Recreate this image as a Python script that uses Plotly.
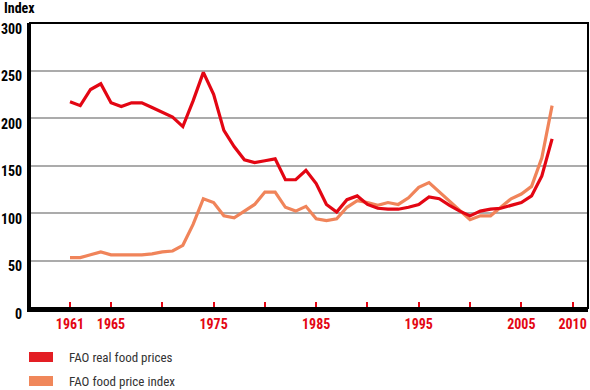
import plotly.graph_objects as go

years = [1961, 1962, 1963, 1964, 1965, 1966, 1967, 1968, 1969, 1970,
         1971, 1972, 1973, 1974, 1975, 1976, 1977, 1978, 1979, 1980,
         1981, 1982, 1983, 1984, 1985, 1986, 1987, 1988, 1989, 1990,
         1991, 1992, 1993, 1994, 1995, 1996, 1997, 1998, 1999, 2000,
         2001, 2002, 2003, 2004, 2005, 2006, 2007, 2008]

real_food_prices = [217, 213, 230, 236, 216, 212, 216, 216, 211, 206,
                    201, 191, 218, 248, 225, 187, 170, 156, 153, 155,
                    157, 135, 135, 145, 131, 109, 101, 114, 118, 109,
                    105, 104, 104, 106, 109, 117, 115, 108, 102, 97,
                    102, 104, 105, 108, 111, 118, 139, 178]

food_price_index = [53, 53, 56, 59, 56, 56, 56, 56, 57, 59,
                    60, 66, 88, 115, 111, 97, 95, 102, 109, 122,
                    122, 106, 102, 107, 94, 92, 94, 106, 113, 111,
                    108, 111, 109, 116, 127, 132, 122, 113, 102, 93,
                    97, 97, 106, 115, 120, 128, 158, 213]

tick_years = [1961, 1965, 1970, 1975, 1980, 1985, 1990, 1995, 2000, 2005, 2010]
tick_labels = ["1961", "1965", "", "1975", "", "1985", "", "1995", "", "2005", "2010"]
y_ticks = [0, 50, 100, 150, 200, 250, 300]

RED = "#e30613"
ORANGE = "#f0845a"
FONT = "Roboto Condensed, Liberation Sans Narrow, sans-serif"

fig = go.Figure()
fig.add_trace(go.Scatter(x=years, y=food_price_index, mode="lines",
                         line=dict(color=ORANGE, width=3.2), name="FAO food price index",
                         showlegend=False))
fig.add_trace(go.Scatter(x=years, y=real_food_prices, mode="lines",
                         line=dict(color=RED, width=3.2), name="FAO real food prices",
                         showlegend=False))

fig.update_layout(
    width=590, height=390,
    margin=dict(l=30, r=2, t=23, b=82, autoexpand=False),
    paper_bgcolor="white", plot_bgcolor="white",
    font=dict(family=FONT),
    xaxis=dict(range=[1957.1, 2011.5], tickvals=tick_years, ticktext=tick_labels,
               ticks="inside", ticklen=6, tickwidth=2, tickcolor=RED,
               tickfont=dict(family=FONT, size=14, color=RED, weight="bold"),
               showline=True, linecolor="black", linewidth=4, automargin=False,
               showgrid=False, zeroline=False, ticklabelstandoff=0),
    yaxis=dict(range=[0, 300], tickvals=y_ticks, automargin=False,
               tickfont=dict(family=FONT, size=14, color="black", weight="bold"),
               showline=True, linecolor="black", linewidth=3,
               showgrid=True, gridcolor="#ababab", gridwidth=1.5,
               zeroline=False, ticks="", ticklabelstandoff=2, ticklabelshift=6),
)

# frame (top and right borders)
fig.add_shape(type="rect", xref="paper", yref="paper", x0=0, x1=1, y0=0, y1=1,
              line=dict(color="black", width=2), layer="above")

fig.add_annotation(text="<b>Index</b>", xref="paper", yref="paper", x=(2 - 30) / 558, y=1.0,
                   xanchor="left", yanchor="bottom", yshift=5, showarrow=False,
                   font=dict(family=FONT, size=14, color="black"))

# legend
legend_items = [("FAO real food prices", "#e31e24"), ("FAO food price index", "#f0875a")]
for i, (label, col) in enumerate(legend_items):
    yc = 357 + i * 24
    fig.add_shape(type="rect", xref="paper", yref="paper",
                  x0=(29 - 30) / 558, x1=(53 - 30) / 558,
                  y0=(308 - (yc + 5)) / 285, y1=(308 - (yc - 5)) / 285,
                  fillcolor=col, line=dict(width=0))
    fig.add_annotation(text=label, xref="paper", yref="paper",
                       x=(67 - 30) / 558, y=(308 - yc) / 285,
                       xanchor="left", yanchor="middle", showarrow=False,
                       font=dict(family=FONT, size=13, color="#333333"))

fig.write_html("out.html", config={"displayModeBar": False},
               post_script="document.body.style.margin='0';document.body.style.overflow='hidden';")
